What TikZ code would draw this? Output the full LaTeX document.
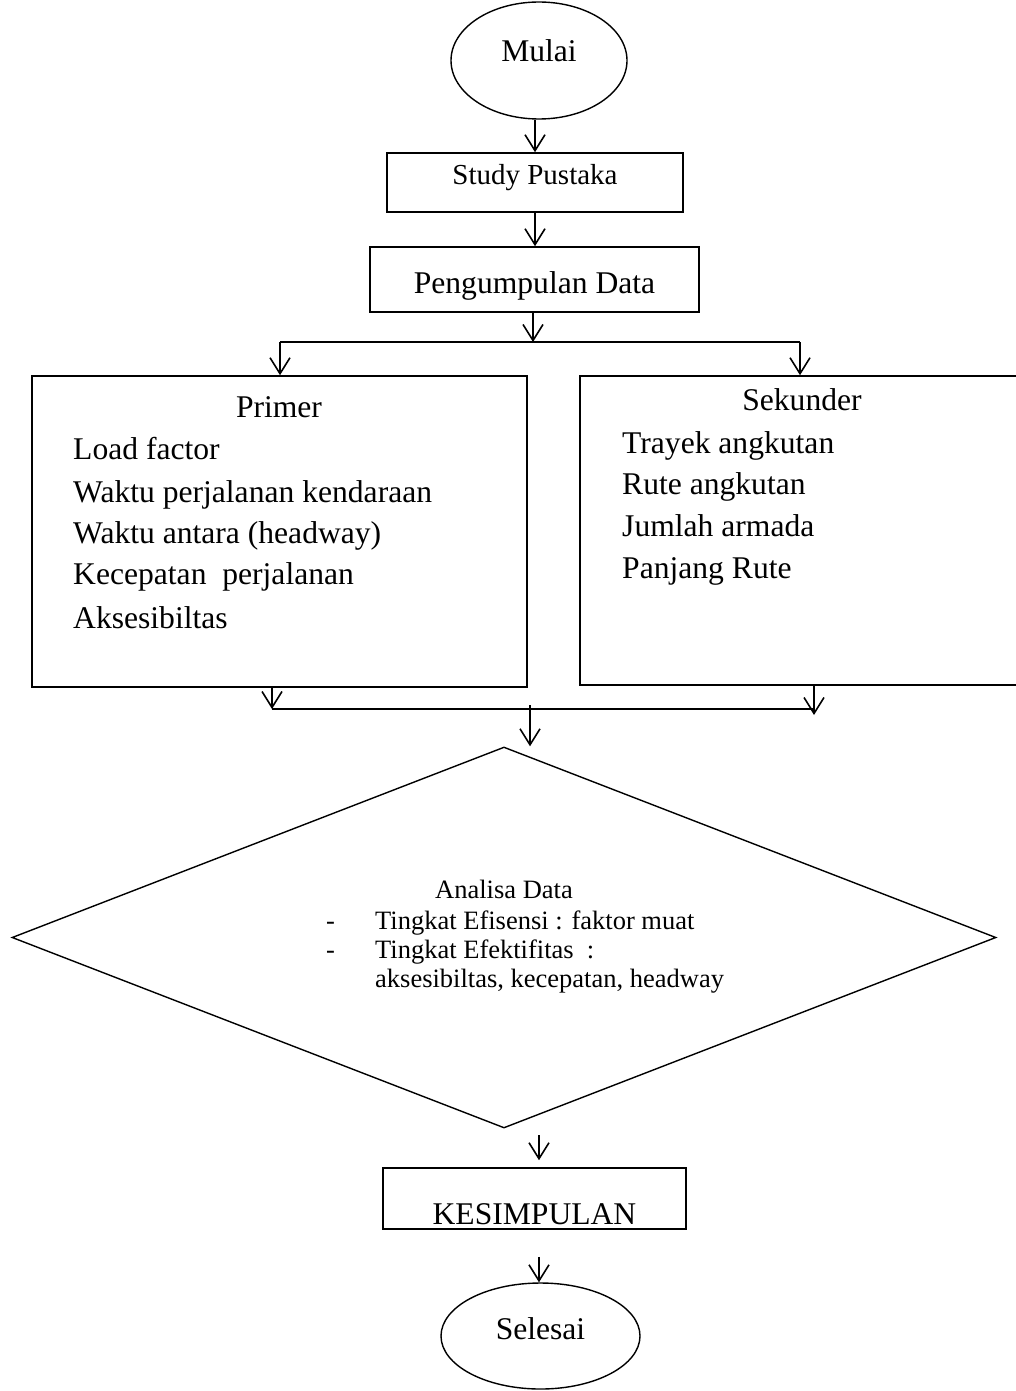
\documentclass[tikz,border=0pt]{standalone}
\usepackage{fontspec}
\setmainfont{Liberation Serif}
\usetikzlibrary{arrows.meta,shapes.geometric}
\tikzset{
  arr/.style={-{Straight Barb[length=16pt,width=20pt,line width=1.6pt]}, line width=1.6pt},
  ln/.style={line width=1.6pt},
  boxn/.style={draw, line width=1.6pt, rectangle, inner sep=0pt},
  term/.style={draw, line width=1.4pt, ellipse, inner sep=0pt},
  txt/.style={inner sep=0pt, font=\fontsize{31.6}{38}\selectfont},
  dtxt/.style={inner sep=0pt, font=\fontsize{26.5}{32}\selectfont},
}
\begin{document}
\begin{tikzpicture}[x=1pt,y=-1pt]
\useasboundingbox (0,0) rectangle (1016,1391);
% terminals and boxes
\node[term, minimum width=176pt, minimum height=117pt, font=\fontsize{31.6}{38}\selectfont, text height=22pt, text depth=19pt] (mulai) at (539,60.5) {Mulai};
\node[boxn, minimum width=296pt, minimum height=59pt, font=\fontsize{29}{35}\selectfont, text height=22pt, text depth=17pt] (study) at (535,182.5) {Study Pustaka};
\node[boxn, minimum width=329pt, minimum height=65pt, font=\fontsize{31.6}{38}\selectfont, text height=30pt, text depth=3pt] (peng) at (534.5,279.5) {Pengumpulan Data};
\node[boxn, minimum width=495pt, minimum height=311pt] (prim) at (279.5,531.5) {};
\node[boxn, minimum width=442pt, minimum height=309pt] (sek) at (801,530.5) {};
\node[draw, line width=1.4pt, diamond, inner sep=0pt, minimum width=984pt, minimum height=381pt] (dia) at (504,937.5) {};
\node[boxn, minimum width=303pt, minimum height=61pt, font=\fontsize{31.6}{38}\selectfont, text height=51pt, text depth=0pt] (kes) at (534.5,1198.5) {KESIMPULAN};
\node[term, minimum width=199pt, minimum height=106pt, font=\fontsize{31.6}{38}\selectfont, text height=22pt, text depth=16pt] (sel) at (540.5,1336) {Selesai};
% Primer text
\node[txt, anchor=base] (pT) at (279,417) {Primer};
\node[txt, anchor=base west] (p1) at (73,459) {Load factor};
\node[txt, anchor=base west] (p2) at (73,502) {Waktu perjalanan kendaraan};
\node[txt, anchor=base west] (p3) at (73,543) {Waktu antara (headway)};
\node[txt, anchor=base west] (p4) at (73,584) {Kecepatan\ \ perjalanan};
\node[txt, anchor=base west] (p5) at (73,628) {Aksesibiltas};
% Sekunder text
\node[txt, anchor=base] (sT) at (802,410) {Sekunder};
\node[txt, anchor=base west] (s1) at (622,453) {Trayek angkutan};
\node[txt, anchor=base west] (s2) at (622,494) {Rute angkutan};
\node[txt, anchor=base west] (s3) at (622,536) {Jumlah armada};
\node[txt, anchor=base west] (s4) at (622,578) {Panjang Rute};
% Diamond text
\node[dtxt, anchor=base west] (dT) at (435,898) {Analisa Data};
\node[dtxt, anchor=base west] (dd1) at (326,929) {-};
\node[dtxt, anchor=base west] (d1) at (375,929) {Tingkat Efisensi : faktor muat};
\node[dtxt, anchor=base west] (dd2) at (326,958) {-};
\node[dtxt, anchor=base west] (d2) at (375,958) {Tingkat Efektifitas\ \ :};
\node[dtxt, anchor=base west] (d3) at (375,987) {aksesibiltas, kecepatan, headway};
% coordinates
\coordinate (split) at (533,342);
\coordinate (splitL) at (280,342);
\coordinate (splitR) at (800,342);
\coordinate (joinL) at (272,709);
\coordinate (joinR) at (814,709);
\coordinate (join) at (530,705);
\coordinate (kx) at (539,1128);
% connectors
\draw[arr] (study.north |- mulai.south) -- (study.north);
\draw[arr] (study.south) -- (study.south |- peng.north);
\draw[arr] (peng.south -| split) -- (split);
\draw[ln] (splitL) -- (splitR);
\draw[arr] (splitL) -- (splitL |- prim.north);
\draw[arr] (splitR) -- (splitR |- sek.north);
\draw[arr] (prim.south -| joinL) -- (joinL);
\draw[arr] (sek.south -| joinR) -- ([yshift=-6pt]joinR);
\draw[ln] (joinL) -- (joinR);
\draw[arr] (join) -- (join |- dia.north);
\draw[arr, shorten <=7pt, shorten >=7pt] (kx) -- (kx |- kes.north);
\draw[arr, shorten <=27pt] (kes.south -| kx) -- (kx |- sel.north);
\end{tikzpicture}
\end{document}
